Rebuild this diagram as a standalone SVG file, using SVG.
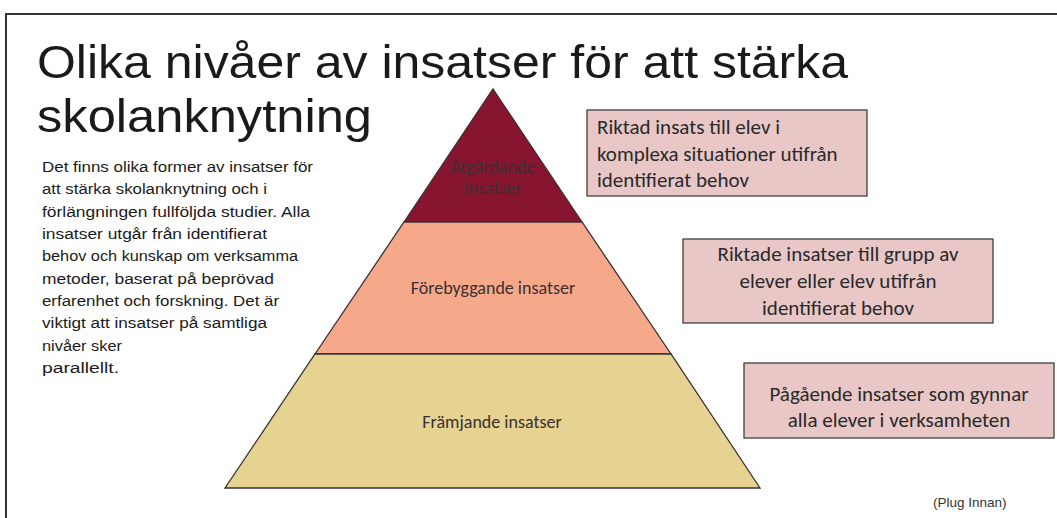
<svg xmlns="http://www.w3.org/2000/svg" width="1057" height="518" viewBox="0 0 1057 518">
<style>
.title{font-family:"Liberation Sans",Arial,sans-serif;font-size:47px;fill:#1a1a1a}
.para{font-family:"Liberation Sans",Arial,sans-serif;font-size:15.5px;fill:#1a1a1a}
.lvl{font-family:Carlito,"Liberation Sans",Arial,sans-serif;font-size:18px;fill:#3a3030;text-anchor:middle}
.box{fill:#E8C7C6;stroke:#3f3f3f;stroke-width:1.3}
.bt{font-family:Carlito,"Liberation Sans",Arial,sans-serif;font-size:21px;fill:#2a2a2a}
.band{stroke:#3a3030;stroke-width:1.3}
</style>
<rect width="1057" height="518" fill="#ffffff"/>
<g id="frame" fill="none" stroke="#333333" stroke-width="2">
<path d="M6,518 V14 H1057"/>
</g>
<g id="title">
<text class="title" x="37" y="78" textLength="811" lengthAdjust="spacingAndGlyphs">Olika nivåer av insatser för att stärka</text>
<text class="title" x="37" y="132" textLength="335" lengthAdjust="spacingAndGlyphs">skolanknytning</text>
</g>
<g id="description">
<text class="para" x="42" y="172" textLength="271" lengthAdjust="spacingAndGlyphs">Det finns olika former av insatser för</text>
<text class="para" x="42" y="194" textLength="225" lengthAdjust="spacingAndGlyphs">att stärka skolanknytning och i</text>
<text class="para" x="42" y="217" textLength="268" lengthAdjust="spacingAndGlyphs">förlängningen fullföljda studier. Alla</text>
<text class="para" x="42" y="239" textLength="225" lengthAdjust="spacingAndGlyphs">insatser utgår från identifierat</text>
<text class="para" x="42" y="261" textLength="256" lengthAdjust="spacingAndGlyphs">behov och kunskap om verksamma</text>
<text class="para" x="42" y="284" textLength="232" lengthAdjust="spacingAndGlyphs">metoder, baserat på beprövad</text>
<text class="para" x="42" y="306" textLength="237" lengthAdjust="spacingAndGlyphs">erfarenhet och forskning. Det är</text>
<text class="para" x="42" y="328" textLength="225" lengthAdjust="spacingAndGlyphs">viktigt att insatser på samtliga</text>
<text class="para" x="42" y="351" textLength="80" lengthAdjust="spacingAndGlyphs">nivåer sker</text>
<text class="para" x="42" y="373" textLength="77" lengthAdjust="spacingAndGlyphs">parallellt.</text>
</g>
<g id="level-top">
<polygon class="band" points="493,89 582,222 404,222" fill="#88152F"/>
<text class="lvl" x="493" y="173" font-size="17">Åtgärdande</text>
<text class="lvl" x="493" y="194" font-size="17">insatser</text>
</g>
<g id="level-middle">
<polygon class="band" points="404,222 582,222 671,354 315,354" fill="#F6A88A"/>
<text class="lvl" x="493" y="294">Förebyggande insatser</text>
</g>
<g id="level-bottom">
<polygon class="band" points="315,354 671,354 760,488 225,488" fill="#E6D392"/>
<text class="lvl" x="492" y="428">Främjande insatser</text>
</g>
<g id="box-top">
<rect class="box" x="587" y="110" width="280" height="86"/>
<text class="bt" x="597" y="134">Riktad insats till elev i</text>
<text class="bt" x="597" y="161">komplexa situationer utifrån</text>
<text class="bt" x="597" y="187">identifierat behov</text>
</g>
<g id="box-middle">
<rect class="box" x="683" y="239" width="310" height="84"/>
<text class="bt" x="838" y="261" text-anchor="middle">Riktade insatser till grupp av</text>
<text class="bt" x="838" y="288" text-anchor="middle">elever eller elev utifrån</text>
<text class="bt" x="838" y="315" text-anchor="middle">identifierat behov</text>
</g>
<g id="box-bottom">
<rect class="box" x="744" y="363" width="310" height="75"/>
<text class="bt" x="899" y="401" text-anchor="middle">Pågående insatser som gynnar</text>
<text class="bt" x="899" y="427" text-anchor="middle">alla elever i verksamheten</text>
</g>
<g id="connectors"></g>
<g id="credit">
<text x="933" y="507" font-family="Liberation Sans,Arial,sans-serif" font-size="13.5" fill="#333333">(Plug Innan)</text>
</g>
</svg>
